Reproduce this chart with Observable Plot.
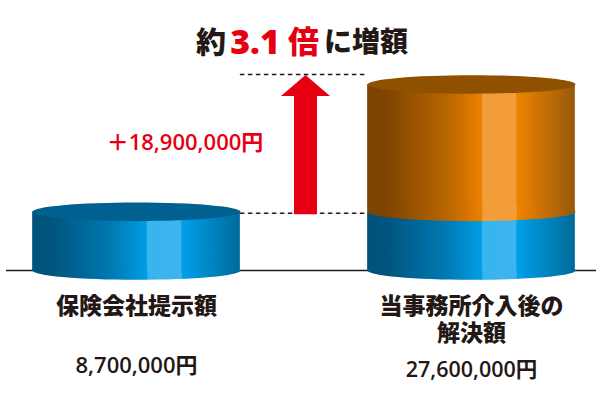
<!DOCTYPE html>
<html lang="ja">
<head>
<meta charset="utf-8">
<style>html,body{margin:0;padding:0;background:#fff}svg{display:block}</style>
<script src="https://cdn.jsdelivr.net/npm/d3@7"></script>
<script src="https://cdn.jsdelivr.net/npm/@observablehq/plot@0.6"></script>
</head>
<body>
<script>
const categories = ["保険会社提示額", "当事務所介入後の\n解決額"];
const slots = [0, 2];
const offered = 8700000;
const settled = 27600000;
const valueLabels = ["8,700,000円", "27,600,000円"];
const increaseLabel = "＋18,900,000円";
const halfBar = 0.62;
const baseColors = ["#00537a", "#00557e", "#0079b3", "#009ee5", "#38b4ee", "#3db5ee", "#00a0e9", "#006a9a"];
const gainColors = ["#7c4300", "#804500", "#b86500", "#ea8000", "#f39c3a", "#f39c3a", "#f08300", "#96590a"];
const stopOffsets = [0, 0.1, 0.38, 0.55, 0.555, 0.715, 0.72, 1];

const sans = "'Open Sans','Noto Sans CJK JP',sans-serif";
const cjk = "'Noto Sans CJK JP',sans-serif";
const ink = "#231815";
const red = "#e60012";

const gradients = () => {
  const defs = d3.create("svg:defs");
  [["base", baseColors], ["gain", gainColors]].forEach(([id, colors]) => {
    const g = defs.append("linearGradient").attr("id", id);
    colors.forEach((c, i) => g.append("stop").attr("offset", stopOffsets[i]).attr("stop-color", c));
  });
  return defs.node();
};

const ellipse = {
  draw(ctx, size) {
    const a = Math.sqrt(size / Math.PI), b = a * 9.3 / 104, k = 0.5523;
    ctx.moveTo(-a, 0);
    ctx.bezierCurveTo(-a, -b * k, -a * k, -b, 0, -b);
    ctx.bezierCurveTo(a * k, -b, a, -b * k, a, 0);
    ctx.bezierCurveTo(a, b * k, a * k, b, 0, b);
    ctx.bezierCurveTo(-a * k, b, -a, b * k, -a, 0);
    ctx.closePath();
  }
};
const arrowHead = {
  draw(ctx, size) {
    const a = Math.sqrt(size / Math.PI);
    ctx.moveTo(0, -a * 0.39);
    ctx.lineTo(a, a * 0.47);
    ctx.lineTo(-a, a * 0.47);
    ctx.closePath();
  }
};

const barW = 104;
const rows = [
  {x: slots[0], y1: 0, y2: offered},
  {x: slots[1], y1: 0, y2: offered},
  {x: slots[1], y1: offered, y2: settled}
];
const titleText = {x: () => 1, frameAnchor: "top", dy: 43, lineAnchor: "middle", text: d => d, fontFamily: cjk, fontWeight: 900};
const valueText = {frameAnchor: "top", lineAnchor: "middle", text: d => d, fill: ink, fontFamily: sans, fontWeight: 600};

const plot = Plot.plot({
  width: 600,
  height: 400,
  marginLeft: 6,
  marginRight: 4,
  marginTop: 0,
  marginBottom: 0,
  x: {domain: [0, 2], range: [136, 471], axis: null},
  y: {domain: [0, 40000000], range: [270, 0.4], axis: null},
  marks: [
    gradients,
    Plot.ruleY([0], {stroke: ink, strokeWidth: 1.6}),
    Plot.dot(slots, {x: d => d, y: () => 0, r: barW, symbol: ellipse, fill: "url(#base)"}),
    Plot.rect(rows.slice(0, 2), {x1: d => d.x - halfBar, x2: d => d.x + halfBar, y1: "y1", y2: "y2", fill: "url(#base)"}),
    Plot.rect(rows.slice(2), {x1: d => d.x - halfBar, x2: d => d.x + halfBar, y1: "y1", y2: "y2", fill: "url(#gain)"}),
    Plot.dot([slots[1]], {x: d => d, y: () => offered, r: barW, symbol: ellipse, fill: "url(#gain)"}),
    Plot.dot([slots[0]], {x: d => d, y: () => offered, r: barW, symbol: ellipse, fill: "#00608f"}),
    Plot.dot([slots[1]], {x: d => d, y: () => settled, r: barW, symbol: ellipse, fill: "#8f5000"}),
    Plot.ruleY([offered], {x1: halfBar, x2: 2 - halfBar, stroke: ink, strokeWidth: 1.5, strokeDasharray: "4.5,3.5", dy: 1.5}),
    Plot.ruleY([settled], {x1: halfBar, x2: 2 - halfBar, stroke: ink, strokeWidth: 1.5, strokeDasharray: "4.5,3.5", dy: -10}),
    Plot.ruleX([1], {y1: offered, y2: settled, stroke: red, strokeWidth: 23, dx: 1.5, insetTop: 3, insetBottom: -1.5}),
    Plot.dot([1], {x: d => d, y: () => settled, r: 24.5, symbol: arrowHead, fill: red, dx: 1.5}),
    Plot.text(["約"], {...titleText, dx: -93, fill: ink, fontSize: 30}),
    Plot.text(["3.1"], {...titleText, dx: -49, fill: red, fontFamily: sans, fontWeight: 800, fontSize: 34}),
    Plot.text(["倍"], {...titleText, dx: -0.5, fill: red, fontSize: 31}),
    Plot.text(["に増額"], {...titleText, dx: 62, fill: ink, fontSize: 28}),
    Plot.text([increaseLabel], {x: () => 1, frameAnchor: "top", dy: 142, dx: -119, lineAnchor: "middle", text: d => d, fill: red, fontFamily: sans, fontWeight: 600, fontSize: 22}),
    Plot.text(categories, {x: (d, i) => slots[i], frameAnchor: "top", lineAnchor: "top", lineHeight: 1.15, text: d => d, fill: ink, fontFamily: cjk, fontWeight: 800, fontSize: 23, dy: 295}),
    Plot.text([valueLabels[0]], {...valueText, x: () => slots[0], dy: 365, fontSize: 22}),
    Plot.text([valueLabels[1]], {...valueText, x: () => slots[1], dy: 370, fontSize: 21.5})
  ]
});
document.body.appendChild(plot);
</script>
</body>
</html>
